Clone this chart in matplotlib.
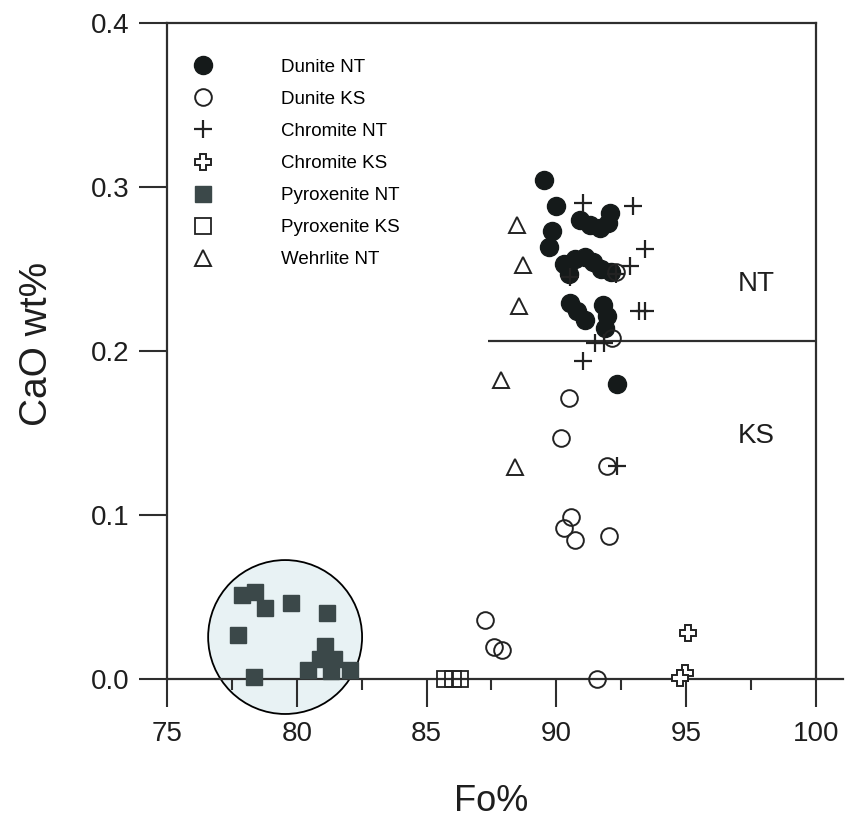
import matplotlib.pyplot as plt
from matplotlib.patches import Ellipse
from matplotlib.ticker import MultipleLocator

plt.rcParams['font.family'] = ['Liberation Sans', 'DejaVu Sans']

# Fo% / CaO wt%
dunite_nt_fo = [89.53, 89.98, 89.84, 89.73, 90.91, 91.30, 91.68, 92.07, 92.00,
                90.30, 90.70, 91.10, 91.40, 91.70, 92.10, 90.50,
                90.52, 90.78, 91.10, 91.81, 91.94, 91.87, 92.32]
dunite_nt_cao = [0.304, 0.288, 0.273, 0.263, 0.280, 0.277, 0.275, 0.284, 0.278,
                 0.253, 0.256, 0.257, 0.254, 0.250, 0.248, 0.247,
                 0.229, 0.224, 0.219, 0.228, 0.221, 0.214, 0.180]

dunite_ks_fo = [92.13, 92.30, 90.50, 90.18, 91.96, 90.55, 90.29, 90.73, 92.04,
                87.25, 87.60, 87.92, 91.55]
dunite_ks_cao = [0.208, 0.248, 0.171, 0.147, 0.130, 0.0985, 0.092, 0.085, 0.087,
                 0.036, 0.0197, 0.0177, 0.0]

chromite_nt_fo = [91.04, 92.94, 93.41, 92.30, 92.85, 90.52, 93.20, 93.42,
                  91.50, 91.85, 91.04, 92.32]
chromite_nt_cao = [0.290, 0.288, 0.262, 0.247, 0.252, 0.245, 0.224, 0.224,
                   0.205, 0.205, 0.194, 0.130]

chromite_ks_fo = [95.08, 94.95, 94.75]
chromite_ks_cao = [0.0278, 0.0035, 0.0005]

pyrox_nt_fo = [77.88, 78.39, 78.78, 79.76, 81.15, 77.75, 78.35,
               81.09, 80.90, 81.45, 80.45, 81.30, 82.05]
pyrox_nt_cao = [0.0512, 0.0532, 0.0431, 0.0461, 0.0404, 0.0268, 0.001,
                0.0201, 0.012, 0.012, 0.0055, 0.005, 0.0055]

pyrox_ks_fo = [85.71, 86.03, 86.29]
pyrox_ks_cao = [0.0, 0.0, 0.0]

wehrlite_nt_fo = [88.47, 88.73, 88.57, 87.85, 88.40]
wehrlite_nt_cao = [0.2767, 0.2523, 0.2273, 0.182, 0.1294]

# NT / KS boundary and the highlight circle
boundary_cao = 0.206
boundary_fo = (87.37, 100)
circle_center = (79.55, 0.0256)
circle_size = (5.93, 0.0938)

axis_col = '#2e2e2e'
text_col = '#1e1e1e'
fig = plt.figure(figsize=(8.46, 8.19), dpi=100)
ax = fig.add_axes([0.1974, 0.1709, 0.7671, 0.8014])

ax.add_patch(Ellipse(circle_center, circle_size[0], circle_size[1],
                     facecolor='#e8f2f4', edgecolor='black', lw=1.3,
                     clip_on=False, zorder=1))

ax.hlines(boundary_cao, boundary_fo[0], boundary_fo[1], color=axis_col, lw=1.6, zorder=2)
# x axis line runs a little past the right frame
ax.plot([100, 101.05], [0, 0], color=axis_col, lw=1.6, clip_on=False, zorder=2)

ms = 12
kw = dict(ls='none', zorder=4, clip_on=False)
ax.plot(dunite_nt_fo, dunite_nt_cao, 'o', ms=ms + 1, mfc='#151a1a', mec='#151a1a',
        label='Dunite NT', **kw)
ax.plot(dunite_ks_fo, dunite_ks_cao, 'o', ms=ms, mfc='none', mec='#222222', mew=1.4,
        label='Dunite KS', **kw)
ax.plot(chromite_nt_fo, chromite_nt_cao, '+', ms=ms + 1, mec='#222222', mew=1.6,
        label='Chromite NT', **kw)
ax.plot(chromite_ks_fo, chromite_ks_cao, 'P', ms=ms, mfc='white', mec='#222222', mew=1.4,
        label='Chromite KS', **kw)
ax.plot(pyrox_nt_fo, pyrox_nt_cao, 's', ms=ms, mfc='#3b4849', mec='#3b4849',
        label='Pyroxenite NT', **kw)
ax.plot(pyrox_ks_fo, pyrox_ks_cao, 's', ms=ms - 1, mfc='none', mec='#222222', mew=1.3,
        label='Pyroxenite KS', **kw)
ax.plot(wehrlite_nt_fo, wehrlite_nt_cao, '^', ms=ms, mfc='none', mec='#222222', mew=1.4,
        label='Wehrlite NT', **kw)

ax.text(97.7, 0.241, 'NT', fontsize=20, ha='center', va='center', color=text_col)
ax.text(97.7, 0.148, 'KS', fontsize=20, ha='center', va='center', color=text_col)

ax.set_xlim(75, 100)
ax.set_ylim(0, 0.4)
ax.xaxis.set_major_locator(MultipleLocator(5))
ax.xaxis.set_minor_locator(MultipleLocator(2.5))
ax.yaxis.set_major_locator(MultipleLocator(0.1))
ax.yaxis.set_major_formatter(plt.FormatStrFormatter('%.1f'))
ax.tick_params(which='major', direction='out', length=20, width=1.5, color=axis_col,
               labelsize=20, pad=7, labelcolor=text_col)
ax.tick_params(axis='x', which='major', pad=10)
ax.tick_params(which='minor', direction='out', length=8, width=1.5, color=axis_col)
for s in ax.spines.values():
    s.set_linewidth(1.6)
    s.set_color(axis_col)

ax.set_xlabel('Fo%', fontsize=26, color=text_col)
ax.xaxis.set_label_coords(0.5, -0.16)
ax.set_ylabel('CaO wt%', fontsize=28, color=text_col)
ax.yaxis.set_label_coords(-0.172, 0.51)

ax.legend(loc='upper left', bbox_to_anchor=(0.0, 0.971), frameon=False, fontsize=13.5,
          handlelength=2, handletextpad=3.2, borderaxespad=0.5, labelspacing=0.8,
          numpoints=1)

fig.savefig('out.png', dpi=100)
